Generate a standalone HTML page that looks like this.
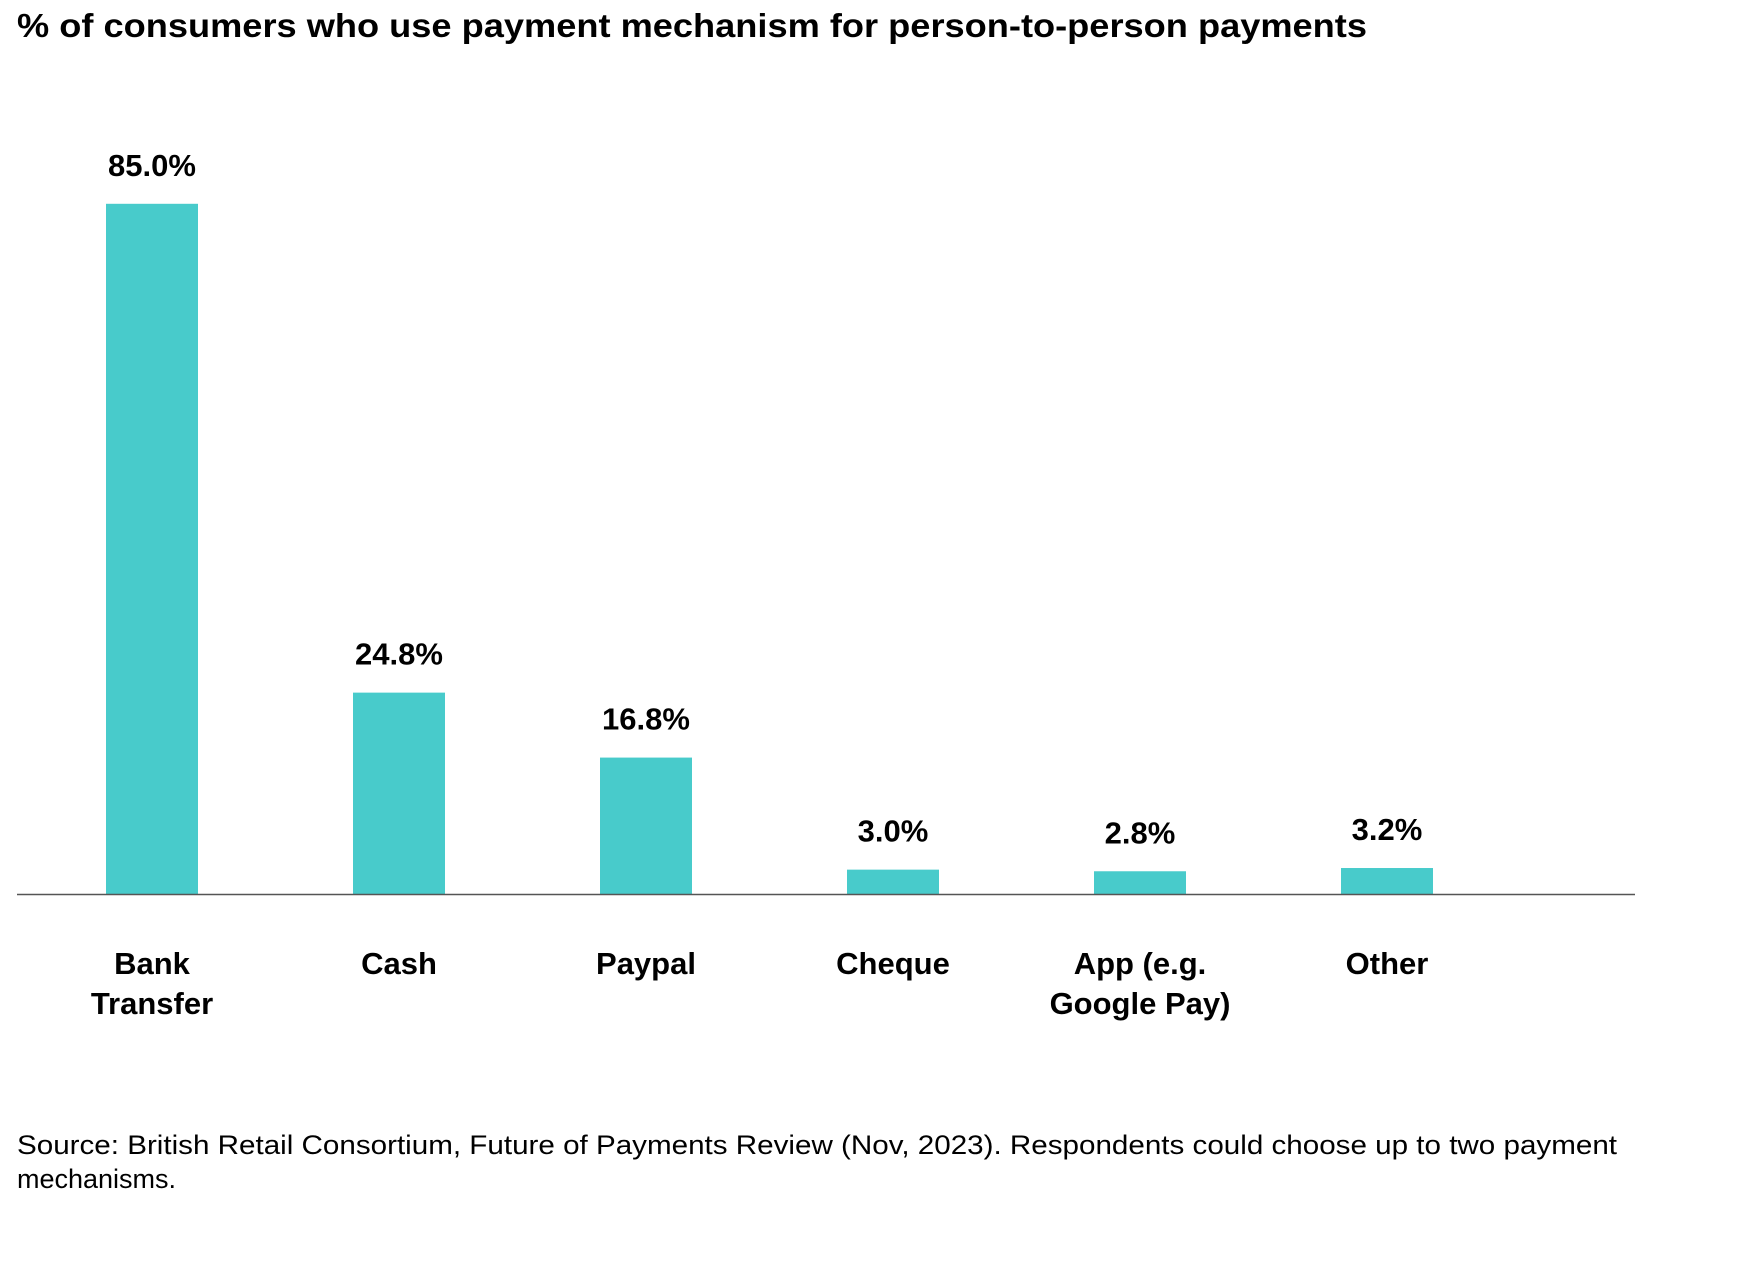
<!DOCTYPE html>
<html><head><meta charset="utf-8"><style>
body{margin:0;background:#fff;}
svg text{font-family:"Liberation Sans",sans-serif;fill:#000;}
</style></head><body>
<svg width="1750" height="1273" viewBox="0 0 1750 1273">
<text x="17" y="37" font-size="33" font-weight="bold" textLength="1350" lengthAdjust="spacingAndGlyphs">% of consumers who use payment mechanism for person-to-person payments</text>
<g id="bars"></g>
<line x1="17" x2="1635" y1="894.5" y2="894.5" stroke="#555" stroke-width="1.5"/>
<text x="17" y="1154" font-size="27" textLength="1600" lengthAdjust="spacingAndGlyphs">Source: British Retail Consortium, Future of Payments Review (Nov, 2023). Respondents could choose up to two payment</text>
<text x="17" y="1188" font-size="27">mechanisms.</text>
</svg>
<script>
const categories=[["Bank","Transfer"],["Cash"],["Paypal"],["Cheque"],["App (e.g.","Google Pay)"],["Other"]];
const values=[85.0,24.8,16.8,3.0,2.8,3.2];
const labels=["85.0%","24.8%","16.8%","3.0%","2.8%","3.2%"];
const NS="http://www.w3.org/2000/svg";
const g=document.getElementById('bars');
const baseY=894, pxPer=8.12, x0=152, step=247, bw=92;
function xs(i){return x0+i*step;}
function ys(v){return baseY-v*pxPer;}
values.forEach((v,i)=>{
  const r=document.createElementNS(NS,'rect');
  r.setAttribute('x',xs(i)-bw/2);r.setAttribute('y',ys(v));
  r.setAttribute('width',bw);r.setAttribute('height',baseY-ys(v));
  r.setAttribute('fill','#48CBCB');
  
  
  g.appendChild(r);
  const t=document.createElementNS(NS,'text');
  t.setAttribute('x',xs(i));t.setAttribute('y',ys(v)-28);
  t.setAttribute('text-anchor','middle');t.setAttribute('font-size','31');t.setAttribute('font-weight','bold');
  t.textContent=labels[i];
  
  
  g.appendChild(t);
  categories[i].forEach((line,j)=>{
    const c=document.createElementNS(NS,'text');
    c.setAttribute('x',xs(i));c.setAttribute('y',974+j*40);
    c.setAttribute('text-anchor','middle');c.setAttribute('font-size','31');c.setAttribute('font-weight','bold');
    c.textContent=line;
    
    
    g.appendChild(c);
  });
});
</script>
</body></html>
